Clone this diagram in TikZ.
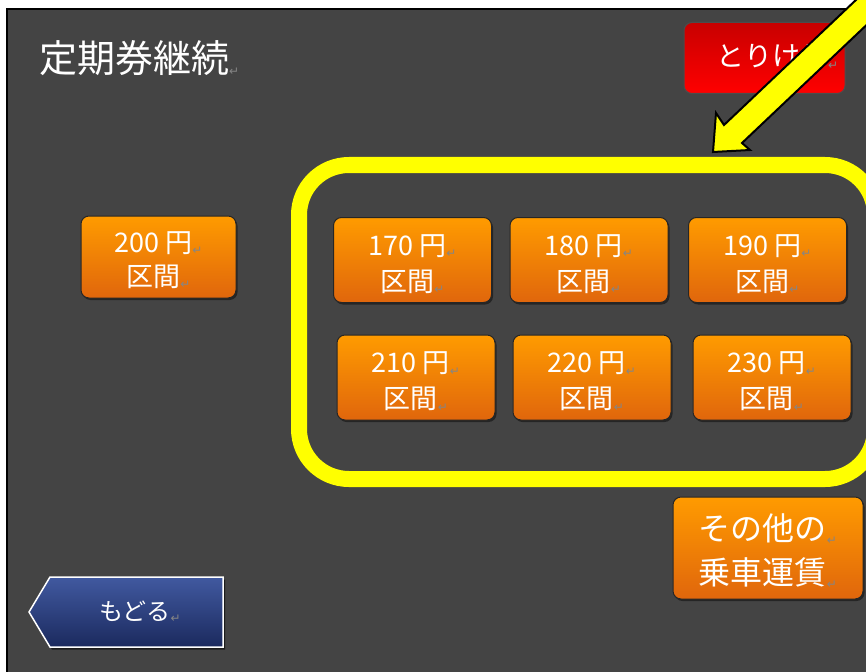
\documentclass[tikz,border=0pt]{standalone}
\usepackage{fontspec}
\setmainfont{Noto Sans CJK JP}
\newfontfamily\dejavu{DejaVu Sans}
\usetikzlibrary{shadows}
\definecolor{bg}{HTML}{444444}
\definecolor{orTop}{HTML}{FF9B00}
\definecolor{orBot}{HTML}{E0660C}
\definecolor{rdTop}{HTML}{C80000}
\definecolor{rdBot}{HTML}{FF0000}
\definecolor{blTop}{HTML}{4159A0}
\definecolor{blBot}{HTML}{1B2A5E}
\definecolor{markgray}{HTML}{858585}
\definecolor{hiyellow}{HTML}{FFFF00}
\newcommand\parmk{\raisebox{-0.1em}{\dejavu\fontsize{12}{12}\selectfont\color{markgray}↵}}
\tikzset{
  btn/.style={draw=black!85, line width=1pt, rounded corners=8pt,
    top color=orTop, bottom color=orBot, inner sep=0pt,
    minimum width=158pt, minimum height=85pt,
    drop shadow={shadow xshift=1.5pt, shadow yshift=-2pt, opacity=0.45, fill=black}},
  btnlbl/.style={text=white, align=center, inner sep=0pt, font=\fontsize{27}{36}\selectfont},
  lbl/.style={text=white, inner sep=0pt},
}
\begin{document}
\begin{tikzpicture}[x=1pt,y=-1pt]
\useasboundingbox (0,0) rectangle (866,671);
\clip (0,0) rectangle (866,671);
% background
\fill[white] (0,0) rectangle (866,671);
\draw[fill=bg, line width=2pt] (7,9) rectangle (890,690);
% title
\node[lbl, anchor=west, font=\fontsize{38}{40}\selectfont] (title) at (39,58) {定期券継続\parmk};
% cancel button
\node[draw=black!70, line width=1pt, rounded corners=8pt, top color=rdTop, bottom color=rdBot,
  minimum width=161pt, minimum height=71pt, inner sep=0pt] (cancel) at (764.5,58) {};
\node[lbl, anchor=west, font=\fontsize{28}{30}\selectfont] (cancelLbl) at (716,57) {とりけし\parmk};
% yellow frame
\draw[hiyellow, line width=16pt, rounded corners=50pt] (299,165) rectangle (875,479);
% fare buttons
\node[btn, minimum width=155pt, minimum height=82pt] (b200) at (158.5,257) {};
\node[btnlbl, font=\fontsize{27}{34}\selectfont] (t200) at ([yshift=-3pt]b200.center) {200 円\parmk\\区間\parmk};
\node[btn] (b170) at (412.5,260) {};
\node[btnlbl] (t170) at ([yshift=-4pt]b170.center) {170 円\parmk\\区間\parmk};
\node[btn] (b180) at (589,260) {};
\node[btnlbl] (t180) at ([yshift=-4pt]b180.center) {180 円\parmk\\区間\parmk};
\node[btn] (b190) at (767.5,260) {};
\node[btnlbl] (t190) at ([yshift=-4pt]b190.center) {190 円\parmk\\区間\parmk};
\node[btn] (b210) at (416,377.5) {};
\node[btnlbl] (t210) at ([yshift=-4pt]b210.center) {210 円\parmk\\区間\parmk};
\node[btn] (b220) at (592,377.5) {};
\node[btnlbl] (t220) at ([yshift=-4pt]b220.center) {220 円\parmk\\区間\parmk};
\node[btn] (b230) at (772,377.5) {};
\node[btnlbl] (t230) at ([yshift=-4pt]b230.center) {230 円\parmk\\区間\parmk};
\node[btn, minimum width=190pt, minimum height=102pt] (other) at (768,548) {};
\node[btnlbl, font=\fontsize{32}{44}\selectfont] (tother) at ([yshift=-3pt]other.center) {その他の\parmk\\乗車運賃\parmk};
% back button
\path[draw=white, line width=1.5pt, top color=blTop, bottom color=blBot,
  drop shadow={shadow xshift=2pt, shadow yshift=-2.5pt, opacity=0.6, fill=black}]
  (29,612) -- (50,577) -- (223,577) -- (223,647) -- (50,647) -- cycle;
\node[lbl, anchor=west, font=\fontsize{24}{26}\selectfont] (back) at (99,612) {もどる\parmk};
% yellow arrow
\draw[fill=hiyellow, line width=2pt, line join=miter]
  (713,152) -- (716,113) -- (724,125) -- (905.5,-47) -- (923.5,-29) -- (742,143) -- (750,150) -- cycle;
\end{tikzpicture}
\end{document}
